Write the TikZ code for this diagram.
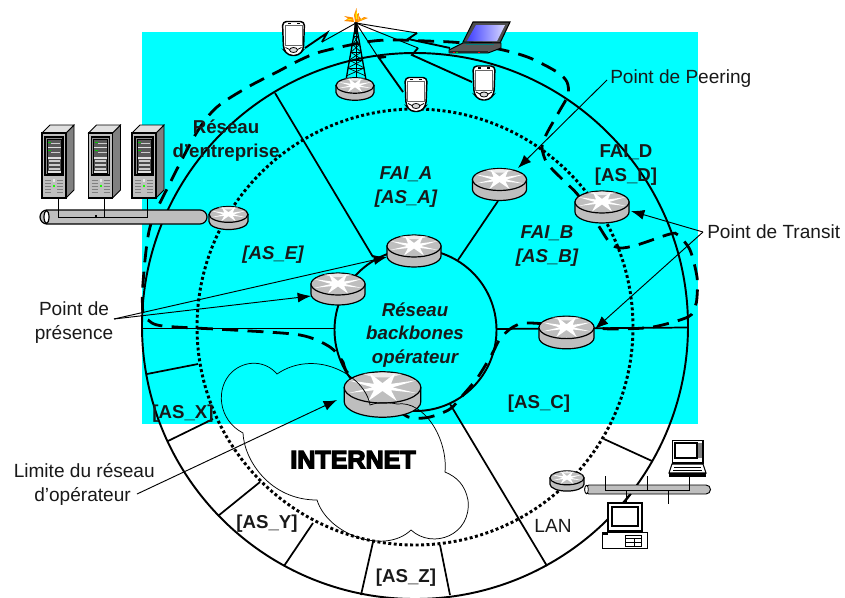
\documentclass[tikz,border=0pt]{standalone}
\usepackage{fontspec}
\setmainfont{Liberation Sans}
\newfontfamily\heavyfont[FakeBold=5]{Liberation Sans Bold}
\usetikzlibrary{arrows.meta}
\definecolor{bgcyan}{RGB}{0,255,255}
\definecolor{rgray}{RGB}{190,190,190}
\tikzset{
  lab/.style={font=\fontsize{14.3}{17.5}\selectfont,text=black!90,align=center,inner sep=0pt},
  blab/.style={font=\fontsize{14}{17.7}\selectfont\bfseries,text=black!90,align=center,inner sep=0pt},
  bilab/.style={font=\fontsize{14}{17.7}\selectfont\bfseries\itshape,text=black!90,align=center,inner sep=0pt},
  ring/.style={line width=1.45pt},
  dotring/.style={line width=2.2pt,dash pattern=on 2.2pt off 1.9pt},
  spoke/.style={line width=1.3pt},
  limit/.style={line width=2.1pt,dash pattern=on 12pt off 7pt},
  leadarrow/.style={line width=.7pt,-{Latex[length=10pt,width=7.5pt]}},
  radio/.style={line width=.7pt},
  radiobolt/.style={line width=1.4pt},
  router/.pic={
    \coordinate (-c) at (0,0);
    \draw[fill=rgray,line width=.9pt] (-27,-5) -- (-27,5) arc[start angle=180,end angle=0,x radius=27,y radius=11] -- (27,-5) -- cycle;
    \draw[fill=rgray,line width=.9pt] (0,-5) ellipse [x radius=27,y radius=11];
    \fill[white] (24,-10) -- (6,-7.5) -- (9,-15) -- (0,-8) -- (-9,-15) -- (-6,-7.5) -- (-24,-10) -- (-7,-5) -- (-24,-1) -- (-6,-3) -- (-10,4.5) -- (0,-2.5) -- (10,4.5) -- (6,-3) -- (24,-1) -- (7,-5) -- cycle;
    \fill[white,opacity=.7] (-14,-14.5) -- (0,-15.6) -- (14,-14.5) -- (6,-12) -- (-6,-12) -- cycle;
  },
  serverbox/.pic={
    \coordinate (-c) at (12,65);
    \draw[fill=black!50,line width=.6pt] (24,0) -- (32,-8) -- (32,57) -- (24,65) -- cycle;
    \draw[fill=black!12,line width=.6pt] (0,0) -- (8,-8) -- (32,-8) -- (24,0) -- cycle;
    \draw[fill=black!25,line width=.8pt] (0,0) rectangle (24,65);
    \draw[fill=black!45,line width=.8pt] (3,4) rectangle (21,42);
    \draw[fill=black!12,line width=.5pt] (5,6) rectangle (19,40);
    \fill[black!65] (5.5,7) rectangle (18.5,14);
    \fill[black!65] (5.5,15) rectangle (18.5,24);
    \fill[green!80!black] (6,8.5) rectangle (9,9.5);
    \fill[green!80!black] (6,17) rectangle (9,18);
    \fill[white!80!black] (9,10) rectangle (18,11);
    \fill[white!80!black] (9,19) rectangle (18,20);
    \foreach \yy in {26,30,34}{\draw[black!70,fill=black!20,line width=.4pt] (6,\yy) rectangle (18,\yy+3);}
    \foreach \yy in {47,50,53,56,59}{
      \draw[black!50,line width=.6pt] (3,\yy) -- (9,\yy);
      \draw[black!50,line width=.6pt] (15,\yy) -- (21,\yy);}
    \fill[green!90!yellow] (11,52) rectangle (13,54);
    \fill[black!10] (11,46) rectangle (13,49);
  },
  pda/.pic={
    \coordinate (-c) at (0,0);
    \draw[fill=white,line width=1.1pt,rounded corners=3pt] (-11,-17) -- (11,-17) -- (10,11) -- (5,17) -- (-5,17) -- (-10,11) -- cycle;
    \draw[black!60,line width=.7pt] (-8.5,-13) rectangle (8.5,7);
    \fill (-6,-16) rectangle (-3,-14.5);
    \fill (3,-16) rectangle (6,-14.5);
    \draw[line width=.6pt,fill=black!15] (0,11.5) ellipse [x radius=4,y radius=2.5];
    \draw[line width=.6pt] (-8,9) -- (-4,11);
    \draw[line width=.6pt] (8,9) -- (4,11);
  }
}
\begin{document}
\begin{tikzpicture}[x=0.75pt,y=-0.75pt]
\clip (0,0) rectangle (845,597);
\fill[bgcyan] (142,32) rectangle (698,424);

% rings
\draw[ring] (415,326) circle [radius=273];
\draw[dotring] (415,327) circle [radius=218];
\draw[ring] (415.5,330) circle [radius=81];

% spokes
\coordinate (sa1) at (275,93);   \coordinate (sa2) at (373,257);
\coordinate (sb1) at (498,201);  \coordinate (sb2) at (458,260);
\coordinate (sc1) at (142,328.5);\coordinate (sc2) at (335,328.5);
\coordinate (sd1) at (496,329);  \coordinate (sd2) at (688,327.5);
\coordinate (se1) at (147,374);  \coordinate (se2) at (198,364);
\coordinate (sf1) at (168,441);  \coordinate (sf2) at (213,419);
\coordinate (sg1) at (218,516);  \coordinate (sg2) at (260,482);
\coordinate (sh1) at (284,566);  \coordinate (sh2) at (313,523);
\coordinate (si1) at (361,595);  \coordinate (si2) at (373,542);
\coordinate (sj1) at (440,545);  \coordinate (sj2) at (450,595);
\coordinate (sk1) at (547,566);  \coordinate (sk2) at (450,404);
\coordinate (sl1) at (604,439);  \coordinate (sl2) at (652,461);
\foreach \s in {a,b,c,d,e,f,g,h,i,j,k,l}{\draw[spoke] (s\s1) -- (s\s2);}

% operator limit
\draw[limit] plot[smooth cycle,tension=.5] coordinates {
 (143,283) (150,227) (170,183) (197,132) (217,107) (248,87) (277,72) (300,60) (320,52) (360,43) (387,40)
 (427,41) (463,43) (503,50) (530,58) (557,72) (567,82) (568,95) (560,110) (547,133) (542,147) (547,163) (563,180) (578,195)
 (598,225) (610,243) (620,248) (637,245) (670,234) (678,235) (690,250) (697,277) (697,297) (695,307) (688,317) (653,327) (617,329)
 (595,328) (530,323) (513,327) (500,339) (492,354) (478,377) (463,395) (450,409) (430,417) (413,418) (400,412)
 (350,375) (343,362) (330,347) (300,335) (233,330) (163,326) (148,320) (143,314)};

% wireless links
\coordinate (apex) at (356,23);
\coordinate (pdaA) at (305,48);
\coordinate (pdaB) at (403,92);
\coordinate (pdaC) at (472,82);
\coordinate (lapA) at (450,48);
\draw[radio] (apex) -- (322,42);
\draw[radiobolt] (322,42) -- (327,33) -- (pdaA);
\draw[radio] (apex) -- (378,57);
\draw[radiobolt] (378,57) -- (386,57) -- (379,58) -- (pdaB);
\draw[radio] (apex) -- (418,48);
\draw[radiobolt] (418,48) -- (412,55) -- (pdaC);
\draw[radio] (apex) -- (417,33);
\draw[radiobolt] (417,33) -- (408,39) -- (lapA);

% tower
\coordinate (towerL) at (346,80);
\coordinate (towerR) at (366,80);
\coordinate (towerM) at (356,80);
\draw[line width=1pt] (apex) -- (towerL);
\draw[line width=1pt] (apex) -- (towerR);
\draw[line width=.6pt] (apex) -- (towerM);
\foreach \yy/\hw in {36/2.5,44/4,52/5.5,60/7,68/8.2}{
  \draw[line width=.6pt] (356-\hw,\yy) -- (356+\hw,\yy);
  \draw[line width=.5pt] (356-\hw,\yy) -- (356+\hw*1.2,\yy+8);
  \draw[line width=.5pt] (356+\hw,\yy) -- (356-\hw*1.2,\yy+8);}
\fill (354.5,22) -- (357.5,22) -- (358,34) -- (354,34) -- cycle;
% flame
\fill[orange!90!yellow] (355,22) -- (354,15) -- (356.5,8) -- (357,14) -- (359,13) -- (358,22) -- cycle;
\fill[orange!90!yellow] (354,22) -- (344,21) -- (348,18.5) -- (344,16) -- (353,17.5) -- cycle;
\fill[orange!90!yellow] (358,22) -- (368,18) -- (364,17) -- (361,19) -- (359,16) -- cycle;
\fill[yellow] (356,19) -- (355.5,14) -- (356.8,11) -- (357.4,19) -- cycle;
\fill[yellow] (353,20) -- (347,19.8) -- (350,18.8) -- cycle;
\fill[yellow] (359.5,20) -- (365,18.2) -- (361,20) -- cycle;

% routers
\pic (rTower) at (355,89) [scale=.704] {router};
\pic (rEnt) at (228.5,218) [scale=.72] {router};
\pic (rA) at (414,251) {router};
\pic (rE) at (338,289) {router};
\pic (rB) at (499.5,184.5) {router};
\pic (rD) at (602,207) {router};
\pic (rC) at (566.5,332.5) [scale=1.02] {router};
\pic (rLan) at (567,481) [scale=.63] {router};
\pic (rBig) at (382.5,394.5) [scale=1.42] {router};

% PDAs
\pic (p1) at (293.5,38.5) {pda};
\pic (p2) at (416,94.5) {pda};
\pic (p3) at (484,83) {pda};

% laptop
\draw[fill=black!70,line width=.8pt] (473,22) -- (510,22) -- (500,43) -- (463,42) -- cycle;
\shade[left color=blue!75,right color=white!85!blue] (476,25) -- (505,25) -- (497,41) -- (467,41) -- cycle;
\draw[fill=black!65,line width=.7pt] (463,43) -- (501,43) -- (501,48) -- (488,53) -- (449,53) -- (449,50) -- cycle;
\fill[black!85] (449,51) rectangle (488,53);
\fill[red] (453,51.5) rectangle (455,52.5);
\fill[green!80!black] (456,51.5) rectangle (458,52.5);
\fill[red] (478,51.5) rectangle (480,52.5);
\draw[teal,line width=.6pt] (466,44) -- (494,44);

% servers and bus
\draw[fill=rgray,line width=.9pt] (47,210) -- (200,210) arc[start angle=-90,end angle=90,radius=7] -- (47,224) arc[start angle=90,end angle=270,radius=7] -- cycle;
\draw[fill=white,line width=.9pt] (46.5,217) ellipse [x radius=2.5,y radius=6.5];
\pic (srvA) at (42,133) {serverbox};
\pic (srvB) at (88.5,133) {serverbox};
\pic (srvC) at (132,133) {serverbox};
\coordinate (busA) at (58,217.5);
\coordinate (busB) at (104.5,217.5);
\coordinate (busC) at (147,217.5);
\draw[line width=.7pt] (58,198) -- (busA) -- (busC) -- (147,198);
\draw[line width=.7pt] (104.5,198) -- (busB);
\fill (95,215) rectangle (97,217);

% LAN bus
\draw[fill=rgray,line width=.7pt] (589,485) -- (706,485) arc[start angle=-90,end angle=90,radius=4.5] -- (589,494) arc[start angle=90,end angle=270,radius=4.5] -- cycle;
\draw[fill=white,line width=.6pt] (586.5,489.5) ellipse [x radius=1.8,y radius=4.2];
\coordinate (lanA) at (605,490.5);
\coordinate (lanB) at (626,490.5);
\coordinate (lanC) at (647,490.5);
\coordinate (lanD) at (668,490.5);
\coordinate (lanE) at (689,490.5);
\draw[line width=.6pt] (605,476) -- (lanA) -- (lanE) -- (689,476);
\draw[line width=.6pt] (647,476) -- (lanC);
\draw[line width=.6pt] (lanD) -- (668,504);
\draw[line width=.6pt] (lanB) -- (626,504);
\draw[line width=1.1pt] (631,494) -- (624,503);

% desktop
\draw[fill=white,line width=.8pt] (608,503) rectangle (642,531);
\draw[fill=white,line width=1.6pt] (612,507) rectangle (638,526);
\draw[fill=white,line width=.7pt] (602,532) rectangle (647,548);
\fill (603,533) rectangle (608,535);
\draw[line width=.5pt] (625,535) rectangle (641,546);
\draw[line width=.5pt] (625,538) -- (641,538) (625,542) -- (641,542) (634,538) -- (634,546);

% small laptop
\draw[fill=white,line width=1.3pt] (672.5,440.5) rectangle (703,463);
\draw[line width=.8pt] (675,443) rectangle (697,458);
\fill[black!50] (698,443) rectangle (702,458);
\draw[fill=white,line width=.8pt] (672,464) -- (703,464) -- (706,473) -- (669,473) -- cycle;
\fill (669,473) rectangle (706,476.5);
\draw[line width=.4pt] (674,467) -- (701,467) (673,470) -- (702,470);

% cloud
\draw[line width=.55pt] (277,374) .. controls (265,360) and (245,360) .. (232,372)
  .. controls (215,388) and (218,420) .. (243,433)
  .. controls (244,460) and (270,500) .. (317,500)
  .. controls (328,535) and (385,555) .. (411,530)
  .. controls (433,550) and (472,535) .. (468,500)
  .. controls (465,485) and (457,477) .. (445,472)
  .. controls (448,440) and (425,400) .. (397,404)
  .. controls (388,402) and (378,402) .. (370,405)
  .. controls (365,375) and (315,348) .. (277,374) -- cycle;

% INTERNET
\node[inner sep=0pt,font=\heavyfont\fontsize{18.8}{20}\selectfont] (internet) at (353,459.5) {INTERNET};

% labels
\node[lab,anchor=west] (peer) at (610,79) {Point de Peering};
\node[lab,anchor=west] (transit) at (707,232) {Point de Transit};
\node[lab] (pres) at (74,322.5) {Point de\\présence};
\node[lab,align=right,anchor=east] (lim) at (155,484.5) {Limite du réseau\\d’opérateur\kern18pt\null};
\node[lab] (lan) at (553,526) {LAN};
\node[blab] at (226,140.5) (ent) {Réseau\\d’entreprise};
\node[blab] (fd) at (626,165) {FAI\_D\\{}[AS\_D]};
\node[blab] (asc) at (539,404) {[AS\_C]};
\node[blab] (asx) at (183,414) {[AS\_X]};
\node[blab] (asy) at (267,524) {[AS\_Y]};
\node[blab] (asz) at (406,578) {[AS\_Z]};
\node[bilab] (fa) at (406,187) {FAI\_A\\{}[AS\_A]};
\node[bilab] (fb) at (547,246) {FAI\_B\\{}[AS\_B]};
\node[bilab] (ase) at (273,255) {[AS\_E]};
\node[bilab] (bb) at (415,335) {Réseau\\backbones\\opérateur};

% leaders
\coordinate (peerL) at (607,80);
\coordinate (transL) at (703,232);
\coordinate (presL) at (114,319);
\coordinate (limL) at (137,494);
\coordinate (tipPeer) at (518,168);
\coordinate (tipD) at (631,211);
\coordinate (tipC) at (595,329);
\coordinate (tipA) at (387,257);
\coordinate (tipE) at (311,296);
\coordinate (tipBig) at (337,400);
\draw[leadarrow] (peerL) -- (tipPeer);
\draw[leadarrow] (transL) -- (tipD);
\draw[leadarrow] (transL) -- (tipC);
\draw[leadarrow] (presL) -- (tipA);
\draw[leadarrow] (presL) -- (tipE);
\draw[leadarrow] (limL) -- (tipBig);
\end{tikzpicture}
\end{document}
